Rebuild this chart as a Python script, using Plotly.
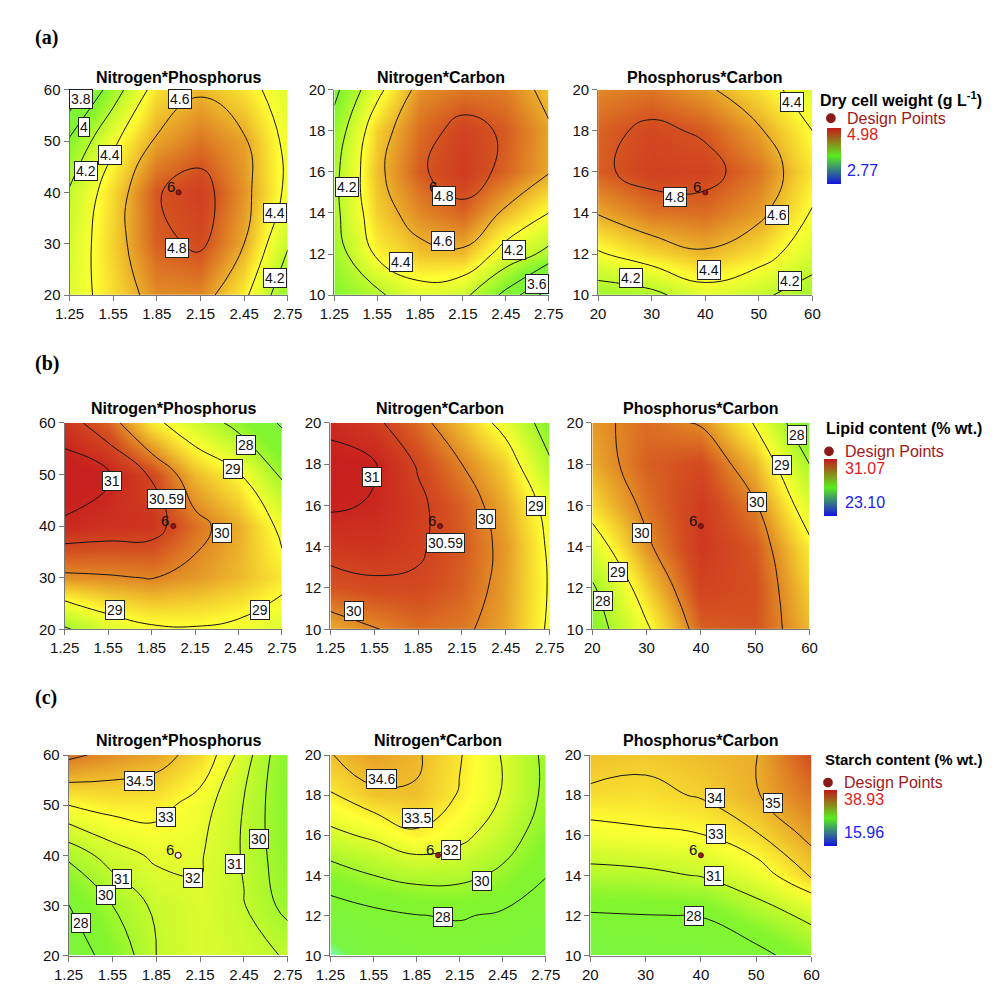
import plotly.graph_objects as go

W, H = 995, 985
SANS = "Liberation Sans, Arial, sans-serif"
SERIF = "Liberation Serif, Times New Roman, serif"

# ---------------- data ----------------
nitrogen = [1.25, 1.55, 1.85, 2.15, 2.45, 2.75]
phosphorus = [20, 30, 40, 50, 60]
carbon = [10, 12, 14, 16, 18, 20]

nitrogen_ticks = ["1.25", "1.55", "1.85", "2.15", "2.45", "2.75"]
phosphorus_ticks = [20, 30, 40, 50, 60]
carbon_ticks = [10, 12, 14, 16, 18, 20]

# Dry cell weight (g/L): rows follow the y variable, columns the x variable
dcw_NP = [
    [4.30, 4.49, 4.67, 4.68, 4.44, 4.05],
    [4.28, 4.52, 4.77, 4.82, 4.60, 4.22],
    [4.22, 4.50, 4.79, 4.87, 4.65, 4.36],
    [4.03, 4.37, 4.62, 4.72, 4.62, 4.35],
    [3.63, 4.11, 4.48, 4.58, 4.47, 4.30],
]
dcw_NC = [
    [4.02, 4.17, 4.32, 4.25, 3.95, 3.50],
    [4.10, 4.43, 4.55, 4.57, 4.32, 4.15],
    [4.15, 4.52, 4.68, 4.76, 4.57, 4.40],
    [4.15, 4.56, 4.78, 4.88, 4.76, 4.61],
    [4.08, 4.52, 4.74, 4.85, 4.78, 4.62],
    [3.95, 4.35, 4.66, 4.72, 4.70, 4.55],
]
dcw_PC = [
    [4.10, 4.15, 4.32, 4.23, 4.12],
    [4.38, 4.50, 4.58, 4.48, 4.28],
    [4.61, 4.72, 4.74, 4.64, 4.39],
    [4.77, 4.86, 4.85, 4.72, 4.46],
    [4.76, 4.83, 4.78, 4.62, 4.40],
    [4.68, 4.72, 4.63, 4.48, 4.30],
]
# Lipid content (% wt.)
lip_NP = [
    [27.9, 28.6, 28.9, 28.95, 28.85, 28.6],
    [29.9, 29.95, 30.02, 29.85, 29.6, 29.2],
    [30.95, 30.85, 30.8, 30.18, 29.7, 28.85],
    [31.2, 31.05, 30.55, 29.6, 29.05, 27.9],
    [30.8, 30.3, 29.2, 28.5, 27.75, 26.9],
]
lip_NC = [
    [29.70, 29.97, 30.20, 30.10, 29.75, 28.90],
    [30.40, 30.50, 30.52, 30.30, 29.80, 28.95],
    [30.75, 30.80, 30.65, 30.35, 29.85, 28.90],
    [31.05, 30.97, 30.68, 30.30, 29.70, 28.75],
    [31.10, 31.03, 30.55, 30.00, 29.40, 28.10],
    [30.93, 30.70, 30.20, 29.55, 28.75, 27.60],
]
lip_PC = [
    [27.6, 28.9, 30.3, 30.4, 29.6],
    [27.9, 29.4, 30.6, 30.45, 29.4],
    [28.6, 29.9, 30.75, 30.35, 29.15],
    [29.3, 30.15, 30.7, 30.05, 28.6],
    [29.7, 30.3, 30.5, 29.6, 28.0],
    [29.85, 30.2, 29.95, 28.95, 27.3],
]
# Starch content (% wt.)
sta_NP = [
    [26.5, 29.0, 31.0, 31.8, 31.4, 30.9],
    [27.95, 30.0, 31.25, 31.85, 31.05, 29.6],
    [30.3, 31.5, 32.2, 32.1, 30.9, 29.2],
    [33.0, 33.4, 33.4, 32.5, 30.95, 29.0],
    [36.3, 35.6, 35.1, 33.9, 31.5, 29.0],
]
sta_NC = [
    [23.8, 26.3, 26.9, 27.0, 26.8, 26.5],
    [26.9, 27.5, 27.95, 28.15, 27.75, 27.3],
    [29.1, 30.0, 30.6, 30.5, 29.6, 28.05],
    [31.6, 32.3, 33.3, 32.5, 31.0, 29.0],
    [33.4, 34.4, 34.5, 33.4, 31.9, 29.6],
    [34.55, 35.2, 34.75, 33.6, 31.9, 29.6],
]
sta_PC = [
    [25.8, 26.5, 26.8, 27.2, 29.4],
    [27.8, 27.95, 28.05, 30.0, 31.5],
    [30.4, 30.6, 31.1, 32.3, 34.2],
    [32.5, 32.8, 32.95, 33.9, 35.3],
    [33.8, 33.7, 34.1, 34.9, 36.3],
    [34.5, 34.3, 34.6, 34.95, 37.2],
]

# contour levels drawn in each panel
lev_dcw_NP = [3.8, 4.0, 4.2, 4.4, 4.6, 4.8]
lev_dcw_NC = [3.6, 3.8, 4.0, 4.2, 4.4, 4.6, 4.8]
lev_dcw_PC = [4.2, 4.4, 4.6, 4.8]
lev_lip_NP = [27, 28, 29, 30, 30.59, 31]
lev_lip_NC = [28, 29, 30, 30.59, 31]
lev_lip_PC = [28, 29, 30]
lev_sta_NP = [28, 30, 31, 32, 33, 34.5, 36]
lev_sta_NC = [28, 30, 32, 33.5, 34.6]
lev_sta_PC = [28, 31, 33, 34, 35]

# contour value labels (text, x, y)
lab_dcw_NP = [("3.8", 1.33, 58.2), ("4", 1.35, 52.7), ("4.2", 1.36, 44.2), ("4.4", 1.53, 47.3),
              ("4.6", 2.01, 58.2), ("4.8", 1.99, 29.2), ("4.4", 2.665, 35.9), ("4.2", 2.665, 23.4)]
lab_dcw_NC = [("4.2", 1.336, 15.28), ("4.8", 2.015, 14.83), ("4.6", 2.01, 12.64),
              ("4.4", 1.716, 11.6), ("4.2", 2.506, 12.2), ("3.6", 2.666, 10.56)]
lab_dcw_PC = [("4.4", 56.2, 19.41), ("4.8", 34.4, 14.77), ("4.6", 53.3, 13.89),
              ("4.4", 40.6, 11.23), ("4.2", 26.1, 10.83), ("4.2", 55.9, 10.7)]
lab_lip_NP = [("28", 2.504, 55.7), ("29", 2.41, 51.1), ("31", 1.578, 48.7), ("30.59", 1.95, 45.2),
              ("30", 2.337, 38.7), ("29", 1.594, 23.8), ("29", 2.598, 23.7)]
lab_lip_NC = [("31", 1.533, 17.38), ("29", 2.659, 15.95), ("30", 2.312, 15.32),
              ("30.59", 2.035, 14.16), ("30", 1.409, 10.87)]
lab_lip_PC = [("28", 57.7, 19.4), ("29", 54.9, 17.94), ("30", 50.3, 16.19),
              ("30", 29.1, 14.68), ("29", 24.65, 12.78), ("28", 21.97, 11.35)]
lab_sta_NP = [("34.5", 1.737, 54.9), ("33", 1.914, 47.6), ("30", 2.551, 43.3), ("31", 2.39, 38.3),
              ("32", 2.102, 35.4), ("31", 1.615, 35.2), ("30", 1.504, 32.0), ("28", 1.338, 26.4)]
lab_sta_NC = [("34.6", 1.609, 18.78), ("33.5", 1.856, 16.87), ("32", 2.092, 15.24),
              ("30", 2.305, 13.73), ("28", 2.036, 11.9)]
lab_sta_PC = [("34", 42.5, 17.84), ("35", 53.1, 17.63), ("33", 42.7, 16.07),
              ("31", 42.4, 13.98), ("28", 38.7, 11.98)]

panel_titles = ["Nitrogen*Phosphorus", "Nitrogen*Carbon", "Phosphorus*Carbon"]
row_letters = ["(a)", "(b)", "(c)"]
responses = ["Dry cell weight (g L<sup>-1</sup>)", "Lipid content (% wt.)", "Starch content (% wt.)"]
resp_min = [2.77, 23.10, 15.96]
resp_max = [4.98, 31.07, 38.93]
resp_min_text = ["2.77", "23.10", "15.96"]
resp_max_text = ["4.98", "31.07", "38.93"]
design_runs = "6"
center_N, center_P, center_C = 2.0, 40, 15

# ---------------- styling ----------------
surface_cs = [
    [0.00, "rgb(0,0,255)"],
    [0.25, "rgb(0,190,255)"],
    [0.33, "rgb(120,255,225)"],
    [0.39, "rgb(120,245,70)"],
    [0.56, "rgb(130,245,45)"],
    [0.655, "rgb(195,250,45)"],
    [0.74, "rgb(255,255,50)"],
    [0.80, "rgb(242,200,45)"],
    [0.86, "rgb(226,140,38)"],
    [0.92, "rgb(212,80,32)"],
    [1.00, "rgb(200,32,30)"],
]
legend_cs = [[0.0, "rgb(20,20,225)"], [0.5, "rgb(90,235,30)"], [1.0, "rgb(195,25,25)"]]

row_y = [(74, 283), (413, 623), (751, 955)]
col_x = [[(48, 273), (321, 542), (593, 814)],
         [(43, 267), (317, 543), (587, 811)],
         [(47, 273), (317, 539), (585, 813)]]
title_y = [62, 398, 736]
letter_y = [21, 353, 692]
legend_title_size = [16, 16, 15]
legend_geo = [
    dict(title=(820, 83), mark=(833, 103), text=(848, 103), cbar=(829, 843, 113, 169), mx=(848, 120), mn=(848, 156)),
    dict(title=(826, 419), mark=(831, 442), text=(845, 442), cbar=(826, 839, 450, 507), mx=(845, 459), mn=(845, 494)),
    dict(title=(825, 756), mark=(830, 779), text=(844, 779), cbar=(826, 839, 787, 843), mx=(844, 796), mn=(844, 830)),
]

N_axis = dict(vals=nitrogen, rng=[1.25, 2.75], tickvals=nitrogen, ticktext=nitrogen_ticks)
P_axis = dict(vals=phosphorus, rng=[20, 60], tickvals=phosphorus_ticks, ticktext=[str(v) for v in phosphorus_ticks])
C_axis = dict(vals=carbon, rng=[10, 20], tickvals=carbon_ticks, ticktext=[str(v) for v in carbon_ticks])

panels = [
    [dict(xa=N_axis, ya=P_axis, z=dcw_NP, lev=lev_dcw_NP, lab=lab_dcw_NP, pt=(center_N, center_P)),
     dict(xa=N_axis, ya=C_axis, z=dcw_NC, lev=lev_dcw_NC, lab=lab_dcw_NC, pt=(center_N, center_C)),
     dict(xa=P_axis, ya=C_axis, z=dcw_PC, lev=lev_dcw_PC, lab=lab_dcw_PC, pt=(center_P, center_C))],
    [dict(xa=N_axis, ya=P_axis, z=lip_NP, lev=lev_lip_NP, lab=lab_lip_NP, pt=(center_N, center_P)),
     dict(xa=N_axis, ya=C_axis, z=lip_NC, lev=lev_lip_NC, lab=lab_lip_NC, pt=(center_N, center_C)),
     dict(xa=P_axis, ya=C_axis, z=lip_PC, lev=lev_lip_PC, lab=lab_lip_PC, pt=(center_P, center_C))],
    [dict(xa=N_axis, ya=P_axis, z=sta_NP, lev=lev_sta_NP, lab=lab_sta_NP, pt=(center_N, center_P), open=True),
     dict(xa=N_axis, ya=C_axis, z=sta_NC, lev=lev_sta_NC, lab=lab_sta_NC, pt=(center_N, center_C)),
     dict(xa=P_axis, ya=C_axis, z=sta_PC, lev=lev_sta_PC, lab=lab_sta_PC, pt=(center_P, center_C))],
]

fig = go.Figure()
annotations = []
shapes = []
layout_axes = {}


def paper_text(text, px, py, size, color="#000", family=SANS, xanchor="left"):
    return dict(text=text, x=px / W, y=1 - py / H, xref="paper", yref="paper",
                xanchor=xanchor, yanchor="middle", showarrow=False,
                font=dict(size=size, color=color, family=family))


for r in range(3):
    lo, hi = resp_min[r], resp_max[r]
    for c in range(3):
        k = r * 3 + c + 1
        sfx = "" if k == 1 else str(k)
        xr, yr = "x" + sfx, "y" + sfx
        p = panels[r][c]
        xs, ys = p["xa"]["vals"], p["ya"]["vals"]

        fig.add_trace(go.Heatmap(x=xs, y=ys, z=p["z"], zmin=lo, zmax=hi, colorscale=surface_cs,
                                 zsmooth="best", showscale=False, hoverinfo="skip",
                                 xaxis=xr, yaxis=yr))
        for lev in p["lev"]:
            fig.add_trace(go.Contour(x=xs, y=ys, z=p["z"], autocontour=False,
                                     contours=dict(start=lev, end=lev, size=1, coloring="none"),
                                     line=dict(color="#141414", width=1, smoothing=1.3),
                                     showscale=False, hoverinfo="skip", xaxis=xr, yaxis=yr))
        px_, py_ = p["pt"]
        if p.get("open"):
            mk = dict(size=6, color="white", line=dict(color="#5a1010", width=1.2))
        else:
            mk = dict(size=5, color="#8B1A1A", line=dict(color="#5a0a0a", width=1))
        fig.add_trace(go.Scatter(x=[px_], y=[py_], mode="markers", marker=mk,
                                 hoverinfo="skip", xaxis=xr, yaxis=yr))
        annotations.append(dict(text=design_runs, x=px_, y=py_, xref=xr, yref=yr,
                                xanchor="center", yanchor="middle", xshift=-8, yshift=6,
                                showarrow=False, font=dict(size=15, color="#111", family=SANS)))
        for (t, lx, ly) in p["lab"]:
            annotations.append(dict(text=t, x=lx, y=ly, xref=xr, yref=yr, showarrow=False,
                                    xanchor="center", yanchor="middle",
                                    bgcolor="white", bordercolor="#222", borderwidth=1, borderpad=1,
                                    font=dict(size=14, color="#111", family=SANS)))

        x0, x1 = col_x[r][c]
        y0, y1 = row_y[r]
        axstyle = dict(ticks="outside", ticklen=5, tickwidth=1, tickcolor="#777",
                       showline=True, linecolor="#777", linewidth=1, showgrid=False,
                       zeroline=False, fixedrange=True,
                       tickfont=dict(size=15, color="#111", family=SANS))
        layout_axes["xaxis" + sfx] = dict(domain=[x0 / W, x1 / W], range=p["xa"]["rng"], anchor=yr,
                                          tickvals=p["xa"]["tickvals"], ticktext=p["xa"]["ticktext"],
                                          **axstyle)
        layout_axes["yaxis" + sfx] = dict(domain=[1 - y1 / H, 1 - y0 / H], range=p["ya"]["rng"], anchor=xr,
                                          tickvals=p["ya"]["tickvals"], ticktext=p["ya"]["ticktext"],
                                          **axstyle)
        annotations.append(paper_text("<b>" + panel_titles[c] + "</b>", (x0 + x1) / 2, title_y[r], 16,
                                      xanchor="center"))

    # row letter
    annotations.append(paper_text("<b>" + row_letters[r] + "</b>", 10, letter_y[r], 20, family=SERIF))

    # legend block
    g = legend_geo[r]
    annotations.append(paper_text("<b>" + responses[r] + "</b>", g["title"][0], g["title"][1],
                                  legend_title_size[r]))
    annotations.append(paper_text("Design Points", g["text"][0], g["text"][1], 16, color="#A01818"))
    annotations.append(paper_text(resp_max_text[r], g["mx"][0], g["mx"][1], 16, color="#E02020"))
    annotations.append(paper_text(resp_min_text[r], g["mn"][0], g["mn"][1], 16, color="#2020F0"))
    mx, my = g["mark"]
    shapes.append(dict(type="circle", xref="paper", yref="paper",
                       x0=(mx - 5) / W, x1=(mx + 5) / W, y0=1 - (my + 5) / H, y1=1 - (my - 5) / H,
                       fillcolor="#8B1A1A", line=dict(width=0)))
    cx0, cx1, cy0, cy1 = g["cbar"]
    k3 = r * 3 + 3
    fig.add_trace(go.Heatmap(z=[[0, 1]], x=[1e6, 1e6 + 1], y=[1e6], zmin=0, zmax=1,
                             colorscale=legend_cs, hoverinfo="skip", xaxis="x" + str(k3), yaxis="y" + str(k3),
                             colorbar=dict(x=cx0 / W, xanchor="left", y=1 - (cy0 + cy1) / 2 / H,
                                           yanchor="middle", len=cy1 - cy0, lenmode="pixels",
                                           thickness=cx1 - cx0, thicknessmode="pixels",
                                           showticklabels=False, ticks="", outlinewidth=0,
                                           xpad=0, ypad=0)))

fig.update_layout(width=W, height=H, margin=dict(l=0, r=0, t=0, b=0),
                  paper_bgcolor="white", plot_bgcolor="white", showlegend=False,
                  annotations=annotations, shapes=shapes, **layout_axes)

fig.write_html("out.html", config={"displayModeBar": False})
